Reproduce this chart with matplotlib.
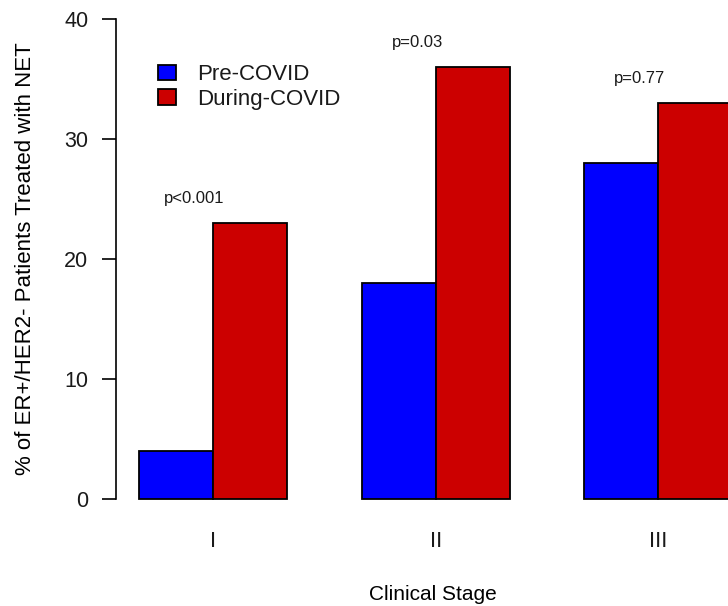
import matplotlib
matplotlib.use("Agg")
import matplotlib.pyplot as plt
import numpy as np

stages = ["I", "II", "III"]
pre_covid = [4, 18, 28]
during_covid = [23, 36, 33]
p_labels = ["p<0.001", "p=0.03", "p=0.77"]
series_names = ["Pre-COVID", "During-COVID"]
colors = ["#0000FF", "#CC0000"]

plt.rcParams['font.family'] = ['Liberation Sans', 'DejaVu Sans']
plt.rcParams['text.color'] = '#1a1a1a'
plt.rcParams['xtick.labelcolor'] = '#1a1a1a'
plt.rcParams['ytick.labelcolor'] = '#1a1a1a'

W, H = 728, 606
fig = plt.figure(figsize=(W/100, H/100), dpi=100)
ax_left, ax_right = 116, 728
ax_top, ax_bot = 19, 499
ax = fig.add_axes([ax_left/W, (H-ax_bot)/H, (ax_right-ax_left)/W, (ax_bot-ax_top)/H])

idx = np.arange(len(stages))
blue_left = 1 + 3*idx
ax.bar(blue_left, pre_covid, width=1, align='edge', color=colors[0], edgecolor='black', linewidth=1.3, label=series_names[0], clip_on=False)
ax.bar(blue_left+1, during_covid, width=1, align='edge', color=colors[1], edgecolor='black', linewidth=1.3, label=series_names[1], clip_on=False)

for i in idx:
    ax.text(blue_left[i] + 0.75, during_covid[i] + 2, p_labels[i], ha='center', va='center', fontsize=12)

unit_px = 74.2
x0_px = 64.8
ax.set_xlim((ax_left - x0_px)/unit_px, (ax_right - x0_px)/unit_px)
ax.set_ylim(0, 40)

ax.set_yticks([0, 10, 20, 30, 40])
ax.set_xticks(blue_left + 1)
ax.set_xticklabels(stages)
ax.tick_params(axis='y', length=10, width=1.2, pad=10, labelsize=15.5)
ax.tick_params(axis='x', length=0, pad=23, labelsize=16)

for s in ['top', 'right', 'bottom']:
    ax.spines[s].set_visible(False)
ax.spines['left'].set_linewidth(1.2)

ax.set_ylabel("% of ER+/HER2- Patients Treated with NET", fontsize=16)
ax.yaxis.label.set_va('center')
ax.yaxis.set_label_coords(-(ax_left - 26)/(ax_right-ax_left), 0.5)
ax.set_xlabel("Clinical Stage", fontsize=15)
ax.xaxis.label.set_va('center')
ax.xaxis.set_label_coords((433-ax_left)/(ax_right-ax_left), -(594-ax_bot)/(ax_bot-ax_top))

leg = ax.legend(loc='upper left', bbox_to_anchor=(158/W, 1 - 64/H), bbox_transform=fig.transFigure,
                frameon=False, fontsize=16, handlelength=0.81, handleheight=0.68,
                handletextpad=0.95, labelspacing=0.17, borderpad=0, borderaxespad=0)

fig.savefig("out.png", dpi=100)
